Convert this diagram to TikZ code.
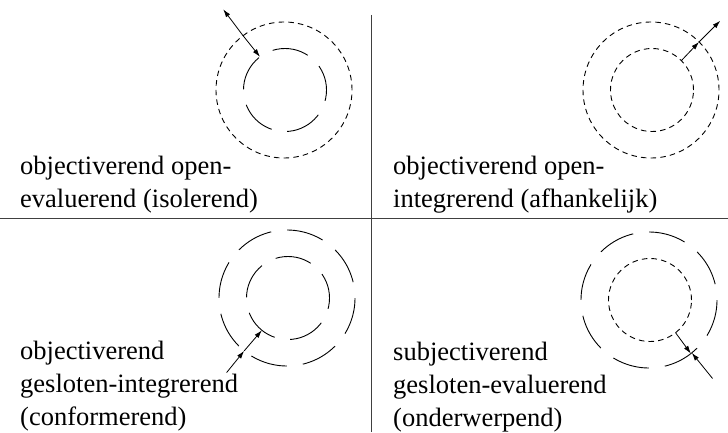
\documentclass[tikz,border=0pt]{standalone}
\usepackage{fontspec}
\setmainfont{Liberation Serif}
\usetikzlibrary{arrows.meta,calc}
\tikzset{>={Latex[length=8pt,width=5pt]}}
\tikzset{
  ring/.style={circle, draw, line width=0.9pt, inner sep=0pt, outer sep=0pt},
  dotring/.style={ring, dash pattern=on 5.5pt off 4.2pt},
  longring/.style={ring, minimum size=136pt, dash pattern=on 37.4pt off 16pt, dash phase=37.4pt},
  corering/.style={ring, minimum size=83pt, dash pattern=on 36.5pt off 15.65pt, dash phase=11pt},
  divider/.style={line width=0.8pt, black!75},
  pointer/.style={->, line width=0.8pt},
  caption/.style={font=\fontsize{26.5}{33}\selectfont, align=left, anchor=base west, inner sep=0pt}
}

\begin{document}
\begin{tikzpicture}[x=1pt,y=1pt]
    \useasboundingbox (0,0) rectangle (728,432);
    \draw[divider] (371,417) -- (371,0);
    \draw[divider] (0,214) -- (728,214);

    % open-evaluerend
    \node[dotring, minimum size=136pt] (oTL) at (284,342) {};
    \node[corering] (iTL) at (285,342) {};
    \draw[pointer] (oTL.127) -- ($(oTL.center)+(127:101pt)$);
    \draw[pointer] (oTL.127) -- (iTL.127);
    \node[caption] (tTL) at (20,225) {objectiverend open-\\evaluerend (isolerend)};

    % open-integrerend
    \node[dotring, minimum size=136pt] (oTR) at (651,342) {};
    \node[dotring, minimum size=83pt] (iTR) at (652,342) {};
    \draw[pointer] (iTR.45) -- (oTR.45);
    \draw[pointer] (oTR.45) -- ($(oTR.center)+(45:98pt)$);
    \node[caption] (tTR) at (393,225) {objectiverend open-\\integrerend (afhankelijk)};

    % gesloten-integrerend
    \node[longring] (oBL) at (287,134) {};
    \node[corering] (iBL) at (288,134) {};
    \draw[pointer] ($(oBL.center)+(231:96pt)$) -- (oBL.231);
    \draw[pointer] (oBL.231) -- (iBL.231);
    \node[caption] (tBL) at (20,7) {objectiverend\\gesloten-integrerend\\(conformerend)};

    % gesloten-evaluerend
    \node[longring] (oBR) at (649,132) {};
    \node[dotring, minimum size=83pt] (iBR) at (650,132) {};
    \draw[pointer] (iBR.-52) -- (oBR.-52);
    \draw[pointer] ($(oBR.center)+(-51:101pt)$) -- (oBR.-51);
    \node[caption] (tBR) at (393,6) {subjectiverend\\gesloten-evaluerend\\(onderwerpend)};
\end{tikzpicture}
\end{document}
